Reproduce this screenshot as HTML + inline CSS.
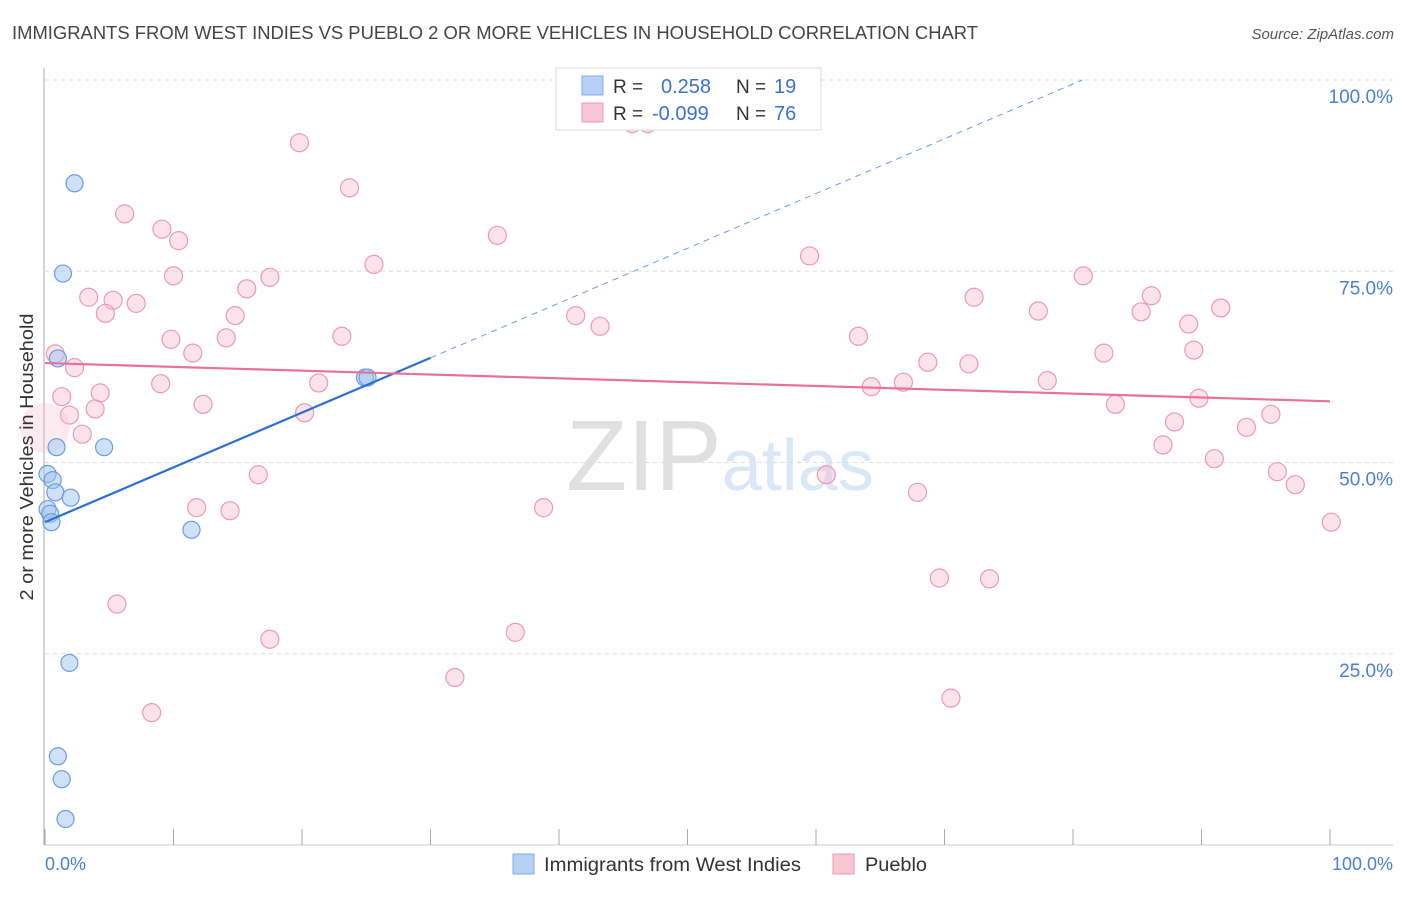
<!DOCTYPE html>
<html><head><meta charset="utf-8"><style>
body{margin:0;background:#fff;font-family:"Liberation Sans",sans-serif;}
svg text{font-family:"Liberation Sans",sans-serif;}
</style></head><body>
<svg id="chart" width="1406" height="892" xmlns="http://www.w3.org/2000/svg">
<text x="12" y="39" font-size="18" fill="#444" textLength="966" lengthAdjust="spacingAndGlyphs">IMMIGRANTS FROM WEST INDIES VS PUEBLO 2 OR MORE VEHICLES IN HOUSEHOLD CORRELATION CHART</text>
<text x="1394" y="39" font-size="15" fill="#555" text-anchor="end" font-style="italic">Source: ZipAtlas.com</text>
<text x="720" y="490" font-size="100" text-anchor="middle" fill="#e2e2e2" font-family="Liberation Serif"><tspan fill="#e0e0e0">ZIP</tspan><tspan fill="#dae7f7" font-family="Liberation Sans" font-size="72">atlas</tspan></text>
<g id="grid"></g>
<g id="axes"></g>
<g id="points"></g>
<g id="lines"></g>
<text transform="translate(33,457) rotate(-90)" font-size="18" fill="#333" text-anchor="middle" textLength="287" lengthAdjust="spacingAndGlyphs">2 or more Vehicles in Household</text>
<text x="45" y="870" font-size="18" fill="#4a7fd4">0.0%</text>
<text x="1393" y="870" font-size="18" fill="#4a7fd4" text-anchor="end">100.0%</text>
<g>
<rect x="556" y="68" width="265" height="62" fill="#fff" stroke="#ddd"/>
<rect x="582" y="76" width="21" height="19" fill="#b7d0f5" stroke="#86aee8"/>
<rect x="582" y="103" width="21" height="19" fill="#f9c6d6" stroke="#ec9ab5"/>
<text x="613" y="93" font-size="19" fill="#333">R =</text>
<text x="661" y="93" font-size="20" fill="#3a73d0">0.258</text>
<text x="736" y="93" font-size="19" fill="#333">N =</text>
<text x="774" y="93" font-size="20" fill="#3a73d0">19</text>
<text x="613" y="120" font-size="19" fill="#333">R =</text>
<text x="652" y="120" font-size="20" fill="#3a73d0">-0.099</text>
<text x="736" y="120" font-size="19" fill="#333">N =</text>
<text x="774" y="120" font-size="20" fill="#3a73d0">76</text>
</g>
<g>
<rect x="513" y="854" width="21" height="20" fill="#b7d0f5" stroke="#86aee8"/>
<text x="544" y="871" font-size="19" fill="#333" textLength="257" lengthAdjust="spacingAndGlyphs">Immigrants from West Indies</text>
<rect x="833" y="854" width="21" height="20" fill="#f9c6d6" stroke="#ec9ab5"/>
<text x="865" y="871" font-size="19" fill="#333" textLength="62" lengthAdjust="spacingAndGlyphs">Pueblo</text>
</g>
</svg>
<script>
const yTicks=[25,50,75,100];
const yTickLabels=["25.0%","50.0%","75.0%","100.0%"];
const xTicks=[0,10,20,30,40,50,60,70,80,90,100];
const blueX=[2.3,1.4,1.0,24.9,25.1,0.9,4.6,0.2,0.6,0.8,2.0,0.2,0.4,0.5,11.4,1.9,1.0,1.3,1.6];
const blueY=[86.5,74.7,63.6,61.1,61.1,52.0,52.0,48.5,47.7,46.1,45.4,43.9,43.3,42.2,41.2,23.8,11.6,8.6,3.4];
const pinkX=[19.8,45.7,46.9,23.7,6.2,9.1,10.4,35.2,59.5,25.6,10.0,17.5,80.8,15.7,3.4,5.3,7.1,4.7,14.8,72.3,86.1,77.3,85.3,91.5,41.3,43.2,89.0,9.8,14.1,23.1,63.3,11.5,0.8,82.4,89.4,2.3,68.7,71.9,1.3,9.0,21.3,64.3,66.8,78.0,4.3,12.3,83.3,89.8,3.9,1.9,20.2,95.4,2.9,87.9,93.5,0.0,87.0,16.6,91.0,60.8,95.9,97.3,67.9,11.8,14.4,38.8,100.1,5.6,69.6,73.5,17.5,36.6,31.9,8.3,70.5];
const pinkY=[91.8,94.3,94.3,85.9,82.5,80.5,79.0,79.7,77.0,75.9,74.4,74.2,74.4,72.7,71.6,71.2,70.8,69.5,69.2,71.6,71.8,69.8,69.7,70.2,69.2,67.8,68.1,66.1,66.3,66.5,66.5,64.3,64.2,64.3,64.7,62.4,63.1,62.9,58.6,60.3,60.4,59.9,60.5,60.7,59.1,57.6,57.6,58.4,57.0,56.2,56.5,56.3,53.7,55.3,54.6,54.5,52.3,48.4,50.5,48.4,48.8,47.1,46.1,44.1,43.7,44.1,42.2,31.5,34.9,34.8,26.9,27.8,21.9,17.3,19.2];
const pinkR=pinkX.map((x,i)=>i===55?25:9);
const blueFit=[42.2,0.716];
const pinkFit=[63.0,-0.05];
const NS="http://www.w3.org/2000/svg";
const X0=45,X1=1330,Y0=845,Y100=80;
const sx=v=>X0+(X1-X0)*v/100;
const sy=v=>Y0-(Y0-Y100)*v/100;
function mk(tag,attrs,parent){const e=document.createElementNS(NS,tag);for(const k in attrs)e.setAttribute(k,attrs[k]);parent.appendChild(e);return e;}
const grid=document.getElementById('grid'),axes=document.getElementById('axes'),pts=document.getElementById('points'),lines=document.getElementById('lines');
yTicks.forEach((t,i)=>{
 const g=mk('line',{x1:X0,x2:1393,y1:sy(t),y2:sy(t),stroke:'#ddd','stroke-dasharray':'4,4'},grid);
 
 
 const l=mk('text',{x:1393,y:sy(t)+23,'font-size':19,fill:'#4a7fd4','text-anchor':'end'},grid);
 l.textContent=yTickLabels[i];
 
 
});
const ax=mk('line',{x1:X0-1,x2:X0-1,y1:68,y2:Y0,stroke:'#aaa'},axes);


const axx=mk('line',{x1:X0-1,x2:1393,y1:Y0,y2:Y0,stroke:'#ccc'},axes);


xTicks.forEach(t=>{
 const tk=mk('line',{x1:sx(t),x2:sx(t),y1:829,y2:Y0,stroke:'#aaa'},axes);
 
 
});
pinkX.forEach((x,i)=>{
 const c=mk('circle',{cx:sx(x),cy:sy(pinkY[i]),r:pinkR[i],fill:'rgba(248,185,205,0.4)',stroke:'#eb9ab4','stroke-width':1.2},pts);
 if(pinkR[i]>10){c.setAttribute('stroke','none');c.setAttribute('fill','rgba(248,185,205,0.3)');}
 
 
});
blueX.forEach((x,i)=>{
 const c=mk('circle',{cx:sx(x),cy:sy(blueY[i]),r:8.5,fill:'rgba(160,195,240,0.5)',stroke:'#6a9de0','stroke-width':1.2},pts);
 
 
});
const bl=mk('line',{x1:sx(0),y1:sy(blueFit[0]),x2:sx(30),y2:sy(blueFit[0]+blueFit[1]*30),stroke:'#2a6fd6','stroke-width':2.2},lines);


const xe=(100-blueFit[0])/blueFit[1];
const bd=mk('line',{x1:sx(30),y1:sy(blueFit[0]+blueFit[1]*30),x2:sx(xe),y2:sy(100),stroke:'#6a9de0','stroke-width':1,'stroke-dasharray':'6,5'},lines);


const pl=mk('line',{x1:sx(0),y1:sy(pinkFit[0]),x2:sx(100),y2:sy(pinkFit[0]+pinkFit[1]*100),stroke:'#e8709a','stroke-width':2.2},lines);


</script>
</body></html>
